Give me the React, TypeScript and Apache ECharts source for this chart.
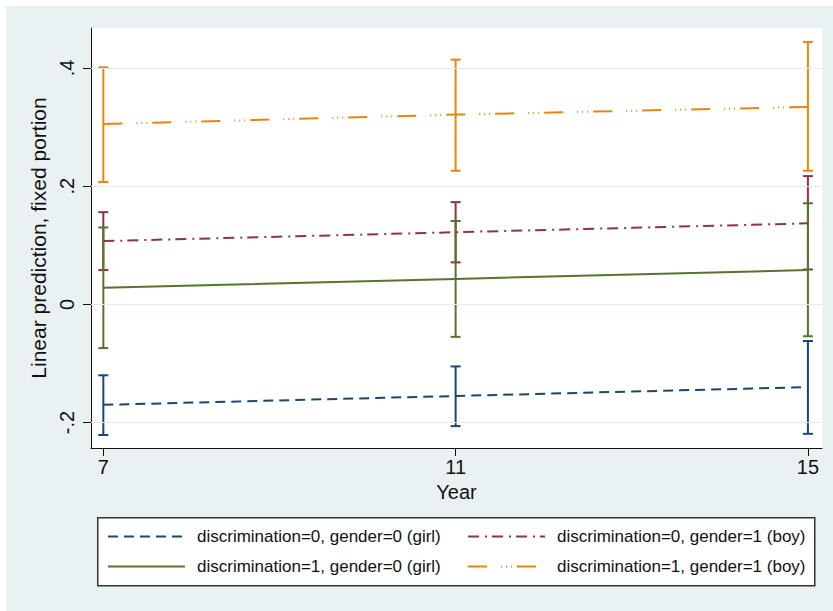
import React, { useEffect, useRef } from "react";
import * as echarts from "echarts";

const years = [7, 11, 15];
const seriesNames = [
  "discrimination=0, gender=0 (girl)",
  "discrimination=0, gender=1 (boy)",
  "discrimination=1, gender=0 (girl)",
  "discrimination=1, gender=1 (boy)",
];
const colors = ["#1a476f", "#90353b", "#55752f", "#e8860c"];
const lineTypes: any[] = [[10, 6], [11, 6, 2, 5], "solid", [19, 14, 1, 4, 1, 4, 1, 5]];

const fit_d0g0 = [-0.17, -0.155, -0.14];
const lo_d0g0 = [-0.221, -0.206, -0.219];
const hi_d0g0 = [-0.12, -0.105, -0.062];

const fit_d0g1 = [0.107, 0.122, 0.137];
const lo_d0g1 = [0.058, 0.071, 0.059];
const hi_d0g1 = [0.156, 0.173, 0.217];

const fit_d1g0 = [0.028, 0.043, 0.058];
const lo_d1g0 = [-0.074, -0.055, -0.054];
const hi_d1g0 = [0.13, 0.141, 0.171];

const fit_d1g1 = [0.305, 0.321, 0.334];
const lo_d1g1 = [0.207, 0.226, 0.226];
const hi_d1g1 = [0.401, 0.414, 0.444];

const yTickValues = [-0.2, 0, 0.2, 0.4];
const yTickLabels = ["-.2", "0", ".2", ".4"];
const xTickValues = [7, 11, 15];

const FONT = "'Liberation Sans', Arial, sans-serif";

export default function App() {
  const ref = useRef<HTMLDivElement>(null);
  useEffect(() => {
    if (!ref.current) return;
    const chart = echarts.init(ref.current, undefined, { renderer: "svg" });
    const fits = [fit_d0g0, fit_d0g1, fit_d1g0, fit_d1g1];
    const los = [lo_d0g0, lo_d0g1, lo_d1g0, lo_d1g1];
    const his = [hi_d0g0, hi_d0g1, hi_d1g0, hi_d1g1];

    const errSeries = fits.map((_, i) => ({
      type: "custom",
      name: "ci" + i,
      silent: true,
      z: 3,
      data: years.map((y, j) => [y, los[i][j], his[i][j]]),
      renderItem: (params: any, api: any) => {
        const x = api.value(0);
        const top = api.coord([x, api.value(2)]);
        const bot = api.coord([x, api.value(1)]);
        const hw = 5;
        const style = { stroke: colors[i], lineWidth: 2 };
        return {
          type: "group",
          children: [
            { type: "line", shape: { x1: top[0], y1: top[1], x2: bot[0], y2: bot[1] }, style },
            { type: "line", shape: { x1: top[0] - hw, y1: top[1], x2: top[0] + hw, y2: top[1] }, style },
            { type: "line", shape: { x1: bot[0] - hw, y1: bot[1], x2: bot[0] + hw, y2: bot[1] }, style },
          ],
        };
      },
    }));

    const lineSeries = fits.map((f, i) => ({
      type: "line",
      name: seriesNames[i],
      z: 4,
      symbol: "none",
      data: years.map((y, j) => [y, f[j]]),
      lineStyle: { color: colors[i], width: 2, type: lineTypes[i] },
      itemStyle: { color: colors[i] },
    }));

    const gridSeries = {
      type: "line",
      name: "grid",
      data: [],
      silent: true,
      z: 1,
      markLine: {
        silent: true,
        symbol: "none",
        label: { show: false },
        lineStyle: { color: "#e2ebee", width: 1, type: "solid" },
        data: yTickValues.map((v) => ({ yAxis: v })),
      },
    };

    const legendBase = {
      orient: "vertical",
      top: 522,
      padding: 0,
      itemGap: 13,
      itemWidth: 77,
      itemHeight: 14,
      itemStyle: { opacity: 0 },
      textStyle: {
        fontFamily: FONT,
        fontSize: 17,
        color: "#111",
        padding: [0, 0, 0, 7],
      },
    };

    chart.setOption({
      animation: false,
      backgroundColor: "#e9f1f2",
      textStyle: { fontFamily: FONT },
      grid: {
        left: 85,
        top: 22,
        right: 11,
        bottom: 163,
        show: true,
        backgroundColor: "#ffffff",
        borderWidth: 0,
      },
      graphic: [
        {
          type: "rect",
          left: 91,
          top: 511,
          z: 0,
          shape: { width: 717, height: 68 },
          style: { fill: "#ffffff", stroke: "#333333", lineWidth: 1.5 },
        },
      ],
      legend: [
        { ...legendBase, left: 101, data: [seriesNames[0], seriesNames[2]] },
        { ...legendBase, left: 461, data: [seriesNames[1], seriesNames[3]] },
      ],
      xAxis: {
        type: "value",
        min: 6.86,
        max: 15.16,
        name: "Year",
        nameLocation: "middle",
        nameGap: 33,
        nameTextStyle: { fontSize: 20, color: "#111", fontFamily: FONT },
        axisLine: { show: true, onZero: false, lineStyle: { color: "#111", width: 1 } },
        axisTick: { show: true, length: 8, customValues: xTickValues, lineStyle: { color: "#111" } },
        axisLabel: { fontSize: 20, color: "#111", margin: 9, customValues: xTickValues, fontFamily: FONT },
        splitLine: { show: false },
      },
      yAxis: {
        type: "value",
        min: -0.243,
        max: 0.4675,
        name: "Linear prediction, fixed portion",
        nameLocation: "middle",
        nameGap: 33,
        nameTextStyle: { fontSize: 21, color: "#111", fontFamily: FONT },
        axisLine: { show: true, onZero: false, lineStyle: { color: "#111", width: 1 } },
        axisTick: { show: true, length: 8, customValues: yTickValues, lineStyle: { color: "#111" } },
        axisLabel: {
          fontSize: 20,
          color: "#111",
          rotate: 90,
          margin: 14,
          customValues: yTickValues,
          fontFamily: FONT,
          formatter: (v: number) => {
            const k = yTickValues.findIndex((t) => Math.abs(t - v) < 1e-9);
            return k >= 0 ? yTickLabels[k] : "";
          },
        },
        splitLine: { show: false },
      },
      series: [gridSeries, ...errSeries, ...lineSeries],
    });
    return () => chart.dispose();
  }, []);
  return (
    <div
      style={{ position: "fixed", left: 0, top: 0, width: 833, height: 611, background: "#ffffff" }}
    >
      <div
        ref={ref}
        style={{ position: "absolute", left: 6, top: 6, width: 827, height: 605 }}
      />
    </div>
  );
}
